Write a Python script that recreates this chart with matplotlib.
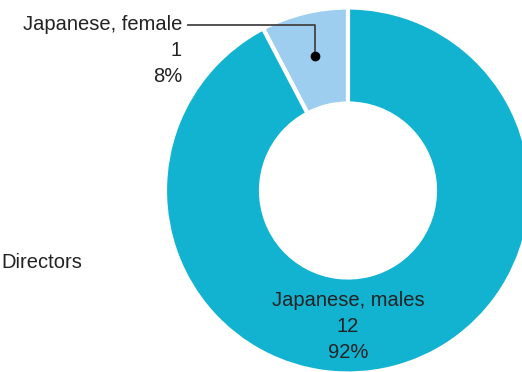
import matplotlib.pyplot as plt

labels = ["Japanese, female", "Japanese, males"]
counts = [1, 12]
shares = ["8%", "92%"]
colors = ["#9dcdef", "#12b2d1"]

W, H = 522, 372

fig = plt.figure(figsize=(W / 100, H / 100), dpi=100)
ax = fig.add_axes([0, 0, 1, 1])

# donut, female slice first so it sits just left of 12 o'clock
cx, cy = 348, H - 190.5
ax.pie(counts, colors=colors, startangle=90, counterclock=True,
       center=(cx, cy), radius=183, frame=True,
       wedgeprops=dict(width=96, edgecolor="white", linewidth=3))
ax.set_xlim(0, W)
ax.set_ylim(0, H)
ax.set_aspect("equal")
ax.axis("off")

txt = dict(family="Liberation Sans", fontsize=14.5, color="#222222")

# female callout
ax.text(182, H - 24, labels[0], ha="right", va="center", **txt)
ax.text(182, H - 50, str(counts[0]), ha="right", va="center", **txt)
ax.text(182, H - 76, shares[0], ha="right", va="center", **txt)
ax.plot([188, 315, 315], [H - 25, H - 25, H - 56], color="#444444", lw=1.3)
ax.plot(315, H - 56, "o", color="black", ms=6)

# male label inside the ring
ax.text(cx, H - 300, labels[1], ha="center", va="center", **txt)
ax.text(cx, H - 326, str(counts[1]), ha="center", va="center", **txt)
ax.text(cx, H - 352, shares[1], ha="center", va="center", **txt)

ax.text(1, H - 263, "Directors", ha="left", va="center", **txt)

fig.savefig("out.png", dpi=100)
